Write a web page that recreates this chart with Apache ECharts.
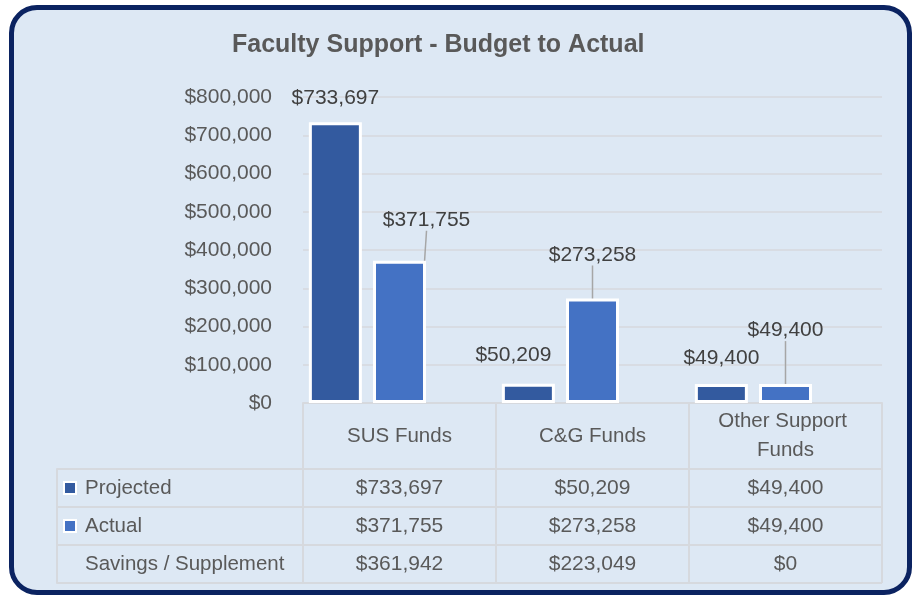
<!DOCTYPE html>
<html>
<head>
<meta charset="utf-8">
<script src="https://cdn.jsdelivr.net/npm/echarts@6/dist/echarts.min.js"></script>
<style>
  html, body { margin: 0; padding: 0; background: #ffffff; }
  #frame {
    position: absolute; left: 9px; top: 5px; width: 893px; height: 580px;
    border: 5px solid #0B2361; border-radius: 28px; background: #DDE8F4;
  }
  #chart { position: absolute; left: 0; top: 0; width: 917px; height: 596px; }
</style>
</head>
<body>
<div id="frame"></div>
<div id="chart"></div>
<script>
// ---- data ----
const categories = ['SUS Funds', 'C&G Funds', 'Other Support Funds'];
const projected = [733697, 50209, 49400];
const actual = [371755, 273258, 49400];
const savings = [361942, 223049, 0];
const rowNames = ['Projected', 'Actual', 'Savings / Supplement'];
const yTicks = [0, 100000, 200000, 300000, 400000, 500000, 600000, 700000, 800000];

// ---- styles ----
const C_PROJ = '#335A9F';
const C_ACT = '#4472C4';
const GRID_C = '#D6D9DE';
const TXT = '#595959';
const FONT = '"Liberation Sans", Arial, sans-serif';
const NUM_SIZE = 21;
const WORD_SIZE = 20.5;
// label displacement (dx, dy) per series / category
const labelShift = [
  [[0, -9], [-15, -13], [0, -10]],
  [[27, -25], [0, -28], [0, -38]]
];

const fmt = v => '$' + Number(v).toLocaleString('en-US');
const rowValues = [projected, actual, savings];
const tableData = [];
rowNames.forEach((r, ri) => {
  categories.forEach((c, ci) => tableData.push([c, r, rowValues[ri][ci]]));
});
const rowColors = [C_PROJ, C_ACT, 'rgba(0,0,0,0)'];

const chart = echarts.init(document.getElementById('chart'), null, { renderer: 'canvas' });
chart.setOption({
  backgroundColor: 'transparent',
  animation: false,
  textStyle: { fontFamily: FONT },
  title: {
    text: 'Faculty Support - Budget to Actual',
    left: 232, top: 33, padding: 0,
    textStyle: { fontFamily: FONT, fontSize: 25, fontWeight: 'bold', color: TXT }
  },
  grid: [
    { left: 303, right: 35, top: 97, bottom: 193 },
    { left: 303, right: 35, top: 469, bottom: 13 }
  ],
  xAxis: [
    {
      type: 'category', gridIndex: 0, data: categories,
      axisLine: { lineStyle: { color: GRID_C, width: 2 } },
      axisTick: { show: true, length: 66, interval: 0, lineStyle: { color: GRID_C, width: 2 } },
      axisLabel: {
        margin: 33, verticalAlign: 'middle', lineHeight: 29,
        width: 160, overflow: 'break',
        color: TXT, fontSize: WORD_SIZE, fontFamily: FONT, interval: 0
      },
      splitLine: { show: false }
    },
    {
      type: 'category', gridIndex: 1, data: categories, position: 'top',
      axisLine: { show: false }, axisTick: { show: false }, axisLabel: { show: false },
      splitLine: { show: true, interval: 0, lineStyle: { color: GRID_C, width: 2 } }
    }
  ],
  yAxis: [
    {
      type: 'value', gridIndex: 0, min: yTicks[0], max: yTicks[yTicks.length - 1], interval: yTicks[1] - yTicks[0],
      axisLine: { show: false }, axisTick: { show: false },
      axisLabel: { margin: 31, color: TXT, fontSize: NUM_SIZE, fontFamily: FONT, formatter: v => fmt(v) },
      splitLine: { lineStyle: { color: GRID_C, width: 1.5 } }
    },
    {
      type: 'category', gridIndex: 1, data: rowNames, inverse: true,
      axisLine: { show: true, lineStyle: { color: GRID_C, width: 2 } },
      axisTick: { show: true, length: 246, interval: 0, lineStyle: { color: GRID_C, width: 2 } },
      axisLabel: {
        margin: 238, align: 'left', color: TXT, fontSize: WORD_SIZE, fontFamily: FONT,
        formatter: (v, i) => '{s' + i + '|}{gap|}{t|' + v + '}',
        rich: {
          s0: { width: 10, height: 10, backgroundColor: C_PROJ, borderColor: '#ffffff', borderWidth: 2 },
          s1: { width: 10, height: 10, backgroundColor: C_ACT, borderColor: '#ffffff', borderWidth: 2 },
          s2: { width: 10, height: 10, backgroundColor: rowColors[2], borderColor: 'rgba(0,0,0,0)', borderWidth: 2 },
          gap: { width: 10 },
          t: { color: TXT, fontSize: WORD_SIZE, fontFamily: FONT }
        }
      },
      splitLine: { show: true, interval: 0, lineStyle: { color: GRID_C, width: 2 } }
    },
    {
      type: 'category', gridIndex: 1, data: rowNames, inverse: true, position: 'left', offset: 246,
      axisLine: { show: true, lineStyle: { color: GRID_C, width: 2 } },
      axisTick: { show: false }, axisLabel: { show: false }, splitLine: { show: false }
    }
  ],
  series: [
    {
      name: 'Projected', type: 'bar', xAxisIndex: 0, yAxisIndex: 0, data: projected,
      barWidth: 53, barGap: '21%',
      itemStyle: { color: C_PROJ, borderColor: '#ffffff', borderWidth: 3 },
      label: { show: true, position: 'top', distance: 5, color: '#404040', fontSize: NUM_SIZE, fontFamily: FONT, formatter: p => fmt(p.value) },
      labelLayout: p => ({ dx: labelShift[0][p.dataIndex][0], dy: labelShift[0][p.dataIndex][1] })
    },
    {
      name: 'Actual', type: 'bar', xAxisIndex: 0, yAxisIndex: 0, data: actual,
      barWidth: 53, barGap: '21%',
      itemStyle: { color: C_ACT, borderColor: '#ffffff', borderWidth: 3 },
      label: { show: true, position: 'top', distance: 5, color: '#404040', fontSize: NUM_SIZE, fontFamily: FONT, formatter: p => fmt(p.value) },
      labelLine: { show: true, lineStyle: { color: '#A6A6A6', width: 1.5 } },
      labelLayout: p => ({ dx: labelShift[1][p.dataIndex][0], dy: labelShift[1][p.dataIndex][1] })
    },
    {
      name: 'Savings / Supplement', type: 'bar', xAxisIndex: 0, yAxisIndex: 0, data: savings,
      barWidth: 53, barGap: '21%', silent: true,
      itemStyle: { color: 'rgba(0,0,0,0)', borderWidth: 0 },
      label: { show: false }
    },
    {
      name: 'table', type: 'scatter', xAxisIndex: 1, yAxisIndex: 1, data: tableData,
      symbolSize: 1, itemStyle: { color: 'rgba(0,0,0,0)', opacity: 1 }, silent: true,
      label: {
        show: true, position: 'inside', color: TXT, opacity: 1, textBorderWidth: 0,
        fontSize: NUM_SIZE, fontFamily: FONT, formatter: p => fmt(p.value[2])
      }
    }
  ]
});
</script>
</body>
</html>
